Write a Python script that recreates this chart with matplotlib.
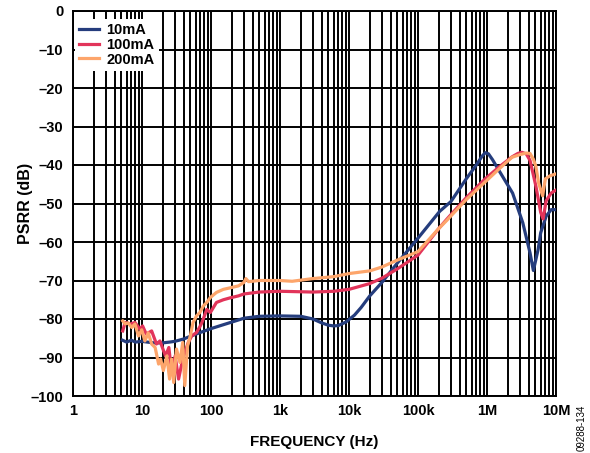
import matplotlib
matplotlib.use('Agg')
import matplotlib.pyplot as plt
from matplotlib.ticker import FixedLocator, LogLocator, NullFormatter

plt.rcParams['font.family'] = ['Liberation Sans', 'DejaVu Sans']

# 10mA load
freq_10ma = [5.2, 6, 7, 8, 10, 12, 15, 20, 25, 30, 40, 50, 70, 100, 150, 200, 300, 500,
             1e3, 2e3, 3e3, 4e3, 5e3, 6e3, 7e3, 9e3, 12e3, 15e3, 20e3, 30e3, 50e3,
             100e3, 207e3, 300e3, 500e3, 700e3, 850e3, 945e3, 1.05e6, 1.2e6, 1.5e6,
             2.35e6, 3.3e6, 4.2e6, 4.7e6, 5.5e6, 6.0e6, 7.2e6, 8.5e6, 10e6]
psrr_10ma = [-85.5, -86, -85.5, -86, -85.8, -86, -86.2, -86.2, -86, -85.8, -85.2, -84.5,
             -83.5, -82.5, -81.5, -80.8, -79.8, -79.3, -79.2, -79.3, -80, -81, -81.6,
             -81.8, -81.7, -80.8, -79, -77, -74, -70.5, -65.5, -59, -52, -49.5, -43.6,
             -40, -37.7, -36.8, -37.1, -38.6, -41.5, -47.3, -55, -62.8, -67.4, -62,
             -57.6, -53.3, -51.6, -51.6]

# 100mA load
freq_100ma = [5.25, 5.7, 6.8, 7.9, 9.3, 10.2, 11.5, 13.8, 16.2, 18.2, 21.9, 24.5, 26.9,
              30.2, 33.9, 38, 41.7, 46.8, 52.5, 61.7, 69, 74, 87, 98, 120, 151, 190, 250,
              300, 500, 1e3, 3e3, 6e3, 10e3, 20e3, 30e3, 50e3, 100e3, 200e3, 264e3,
              500e3, 940e3, 1.5e6, 2.3e6, 2.8e6, 3.2e6, 3.7e6, 4.2e6, 5.1e6, 6.0e6,
              6.5e6, 7.2e6, 8.5e6, 10e6]
psrr_100ma = [-83.1, -80.9, -81.3, -80.9, -82.6, -81.8, -83.9, -83.1, -86.5, -85.7, -89.6,
              -87.4, -93.9, -89.6, -95.6, -91.3, -88.7, -86.1, -84.4, -83.5, -82, -80.9,
              -77.5, -78.3, -75.7, -75, -74.5, -74, -73.5, -73, -72.8, -73, -72.8, -72.3,
              -70.8, -69.4, -67, -63.4, -56.5, -54, -48.5, -43.6, -40.5, -37.9, -37.0,
              -36.7, -37.1, -38.8, -45.4, -52.3, -54, -49.3, -47.3, -46.5]

# 200mA load
freq_200ma = [5.25, 5.7, 6.3, 7.1, 7.9, 8.9, 9.9, 11, 12.3, 13.8, 15.5, 17.4, 18.6, 20.4,
              22.9, 25.1, 26.9, 28.8, 31.6, 35.5, 38.9, 41.7, 45.7, 50.1, 55, 61.7, 69,
              77.6, 87, 98, 120, 151, 190, 250, 300, 320, 350, 500, 1e3, 1.5e3, 3e3, 6e3,
              10e3, 20e3, 30e3, 50e3, 100e3, 200e3, 264e3, 500e3, 940e3, 1.5e6, 2.3e6,
              3e6, 3.7e6, 4.2e6, 4.7e6, 5.1e6, 5.6e6, 6.4e6, 7.0e6, 8.2e6, 10e6]
psrr_200ma = [-80.5, -81.3, -81, -82.2, -81.3, -84.4, -82.8, -85.7, -83.6, -86.5, -87.4,
              -91.7, -90.4, -93.4, -89.6, -95.6, -90.4, -96.5, -87.8, -91.3, -86.1, -97.3,
              -87, -84.4, -80.9, -79.2, -78.3, -76.6, -75.7, -74.4, -73.1, -72.3, -71.9,
              -71.4, -70.5, -69.5, -70.3, -70, -70, -70.2, -69.5, -69, -68.2, -67.5,
              -66.5, -64.7, -62.5, -56.5, -54.3, -49, -44.4, -41, -38, -37.3, -36.9, -37,
              -38.5, -40.3, -44.7, -48, -43.6, -42.8, -42.3]

series_labels = ['10mA', '100mA', '200mA']
series_colors = ['#253D7D', '#E2345A', '#FDA56B']

x_ticks = [1, 10, 100, 1e3, 1e4, 1e5, 1e6, 1e7]
x_tick_labels = ['1', '10', '100', '1k', '10k', '100k', '1M', '10M']
y_ticks = list(range(-100, 1, 10))
y_tick_labels = [str(v).replace('-', '\u2013') for v in y_ticks]

fig = plt.figure(figsize=(5.9, 4.53), dpi=100)
ax = fig.add_axes([73 / 590, 1 - 396 / 453, (556 - 73) / 590, (396 - 11) / 453])

data = [(freq_10ma, psrr_10ma), (freq_100ma, psrr_100ma), (freq_200ma, psrr_200ma)]
for (f, p), lab, col in zip(data, series_labels, series_colors):
    ax.plot(f, p, color=col, lw=2.3, label=lab, solid_joinstyle='round', zorder=3)

ax.set_xscale('log')
ax.set_xlim(1, 1e7)
ax.set_ylim(-100, 0)
ax.xaxis.set_major_locator(FixedLocator(x_ticks))
ax.set_xticklabels(x_tick_labels)
ax.xaxis.set_minor_locator(LogLocator(base=10, subs=range(2, 10), numticks=20))
ax.xaxis.set_minor_formatter(NullFormatter())
ax.set_yticks(y_ticks)
ax.set_yticklabels(y_tick_labels)

ax.grid(which='major', color='black', lw=1.4)
ax.grid(which='minor', axis='x', color='black', lw=1.4)
ax.set_axisbelow(True)
for s in ax.spines.values():
    s.set_linewidth(1.4)

ax.tick_params(which='both', length=0, labelsize=10.5)
ax.tick_params(axis='x', pad=6)
ax.tick_params(axis='y', pad=7)
for t in ax.get_xticklabels() + ax.get_yticklabels():
    t.set_fontweight('bold')

ax.set_xlabel('FREQUENCY (Hz)', fontsize=11, fontweight='bold')
ax.set_ylabel('PSRR (dB)', fontsize=11.5, fontweight='bold')
ax.xaxis.set_label_coords(0.5, -0.101)
ax.yaxis.set_label_coords(-0.082, 0.5)

# white box without border, sits just under the top spine
leg = ax.legend(loc='upper left', bbox_to_anchor=(0.004, 0.98), frameon=True,
                fancybox=False, framealpha=1, facecolor='white', edgecolor='white',
                handlelength=1.35, handletextpad=0.5, labelspacing=0.05,
                borderpad=0.3, borderaxespad=0.0,
                prop={'weight': 'bold', 'size': 10.5})
leg.get_frame().set_linewidth(0)
leg.set_zorder(5)

fig.text(0.985, 0.005, '09288-134', rotation=90, fontsize=7, ha='center', va='bottom')

fig.savefig('out.png', dpi=100)
